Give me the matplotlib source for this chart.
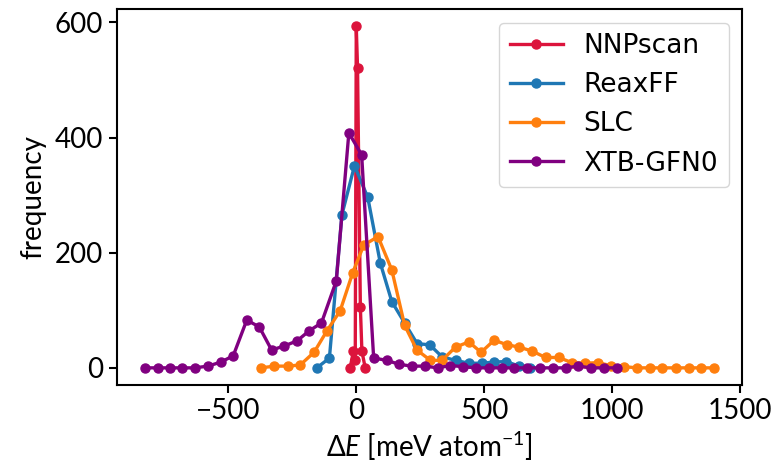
import matplotlib
matplotlib.use("Agg")
import matplotlib.pyplot as plt

# histogram counts
nnp_x = [-24, -11, -4, 0, 5, 16, 22, 35]
nnp_y = [0, 29, 14, 593, 521, 106, 29, 0]

reax_x = [-154, -105, -56, -7, 45, 94, 139, 189, 238, 287, 336, 388, 440, 490, 538, 586, 636, 681]
reax_y = [0, 17, 266, 351, 296, 182, 115, 78, 42, 40, 19, 13, 8, 8, 10, 11, 3, 0]

slc_x = [-372, -320, -268, -219, -165, -115, -63, -14, 29, 85, 139, 189, 237, 290, 335, 388,
         440, 488, 539, 590, 637, 688, 740, 792, 843, 895, 944, 995, 1047, 1099, 1148, 1197,
         1249, 1299, 1347, 1397]
slc_y = [0, 3, 3, 5, 27, 64, 99, 165, 213, 228, 170, 74, 31, 13, 13, 36, 45, 27, 48, 40,
         36, 29, 18, 18, 9, 8, 9, 4, 2, 0, 0, 0, 0, 0, 0, 0]

xtb_x = [-826, -777, -730, -680, -631, -580, -529, -481, -428, -379, -331, -281, -231, -185,
         -136, -78, -29, 21, 68, 120, 168, 218, 268, 318, 368, 419, 469, 519, 568, 618, 668,
         718, 768, 818, 868, 917, 967, 1018]
xtb_y = [0, 0, 0, 0, 0, 3, 10, 21, 83, 71, 31, 38, 47, 64, 78, 151, 408, 370, 17, 13, 6, 3,
         3, 0, 4, 2, 0, 0, 0, 0, 0, 0, 0, 0, 3, 0, 0, 0]

series = [("NNPscan", nnp_x, nnp_y, "#dc143c"),
          ("ReaxFF", reax_x, reax_y, "#1f77b4"),
          ("SLC", slc_x, slc_y, "#ff7f0e"),
          ("XTB-GFN0", xtb_x, xtb_y, "#800080")]

plt.rcParams['mathtext.fontset'] = 'custom'
plt.rcParams['mathtext.rm'] = 'Lato'
plt.rcParams['mathtext.it'] = 'Lato:italic'

fig = plt.figure(figsize=(7.77, 4.66), dpi=100)
ax = fig.add_axes([0.150, 0.174, 0.805, 0.806])

for name, x, y, c in series:
    ax.plot(x, y, "-o", color=c, lw=2.4, ms=6.5, label=name)

ax.set_xticks([-500, 0, 500, 1000, 1500])
ax.set_yticks([0, 200, 400, 600])
ax.tick_params(labelsize=20, length=6, width=1.5)
for lab in ax.get_xticklabels() + ax.get_yticklabels():
    lab.set_family("Lato")
for s in ax.spines.values():
    s.set_linewidth(1.5)

ax.set_xlabel("Δ$E$ [meV atom$^{-1}$]", fontsize=20, family="Lato", labelpad=4)
ax.set_ylabel("frequency", fontsize=20, family="Lato", labelpad=6)

ax.legend(loc="upper right", fontsize=19, handlelength=2.0)

fig.savefig("out.png", dpi=100)
